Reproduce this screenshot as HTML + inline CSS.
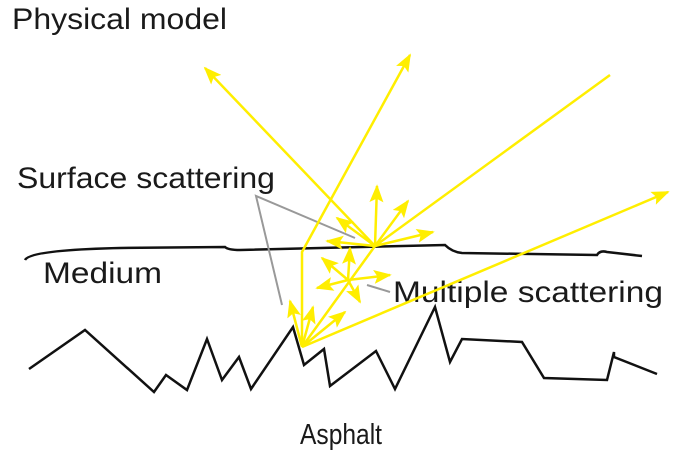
<!DOCTYPE html>
<html><head><meta charset="utf-8"><style>html,body{margin:0;padding:0;background:#fff}svg{display:block}</style></head>
<body>
<svg width="673" height="454" viewBox="0 0 673 454" xmlns="http://www.w3.org/2000/svg">
<defs>
<marker id="ah2" viewBox="0 0 10 10" refX="9" refY="5" markerWidth="18" markerHeight="14" orient="auto" markerUnits="userSpaceOnUse" preserveAspectRatio="none">
<path d="M0,0 L10,5 L0,10 L2,5 z" fill="#ffee00"/>
</marker>
</defs>
<g font-family="'Liberation Sans', sans-serif" fill="#1a1a1a">
<text x="12" y="29" font-size="30" textLength="215" lengthAdjust="spacingAndGlyphs">Physical model</text>
<text x="17" y="188" font-size="30" textLength="258" lengthAdjust="spacingAndGlyphs">Surface scattering</text>
<text x="43" y="283" font-size="30" textLength="119" lengthAdjust="spacingAndGlyphs">Medium</text>
<text x="393" y="302" font-size="30" textLength="270" lengthAdjust="spacingAndGlyphs">Multiple scattering</text>
<text x="300" y="444" font-size="29" textLength="82" lengthAdjust="spacingAndGlyphs">Asphalt</text>
</g>
<path d="M25,260 Q30,250 120,248 L225,247 Q228,250 240,250 L445,245 Q452,252 462,253 L597,255 Q600,250 607,252 L642,256" fill="none" stroke="#111" stroke-width="2.5"/>
<polyline points="29,369 85,330 154,392 166,375 187,390 207,339 222,380 239,357 251,389 293,327 304,365 324,349 330,386 376,351 395,389 435,307 450,362 462,339 522,342 544,378 607,380 614,352 614,357 657,374" fill="none" stroke="#111" stroke-width="2.5" stroke-linejoin="miter"/>
<g stroke="#999" stroke-width="2" fill="none">
<polyline points="355,238 256,196 282,305"/>
<line x1="367" y1="285" x2="390" y2="292"/>
</g>
<g stroke="#ffee00" stroke-width="2.5" fill="none">
<line x1="375" y1="246" x2="205" y2="68" marker-end="url(#ah2)"/>
<polyline points="302,347 302,252 410,55" marker-end="url(#ah2)"/>
<line x1="375" y1="246" x2="610" y2="75"/>
<line x1="302" y1="347" x2="375" y2="246"/>
<line x1="302" y1="347" x2="668" y2="192" marker-end="url(#ah2)"/>
<line x1="375" y1="246" x2="377" y2="186" marker-end="url(#ah2)"/>
<line x1="375" y1="246" x2="408" y2="201" marker-end="url(#ah2)"/>
<line x1="375" y1="246" x2="433" y2="232" marker-end="url(#ah2)"/>
<line x1="375" y1="246" x2="327" y2="241" marker-end="url(#ah2)"/>
<line x1="375" y1="246" x2="337" y2="218" marker-end="url(#ah2)"/>
<line x1="348" y1="280" x2="350" y2="248" marker-end="url(#ah2)"/>
<line x1="348" y1="280" x2="322" y2="258" marker-end="url(#ah2)"/>
<line x1="348" y1="280" x2="390" y2="275" marker-end="url(#ah2)"/>
<line x1="348" y1="280" x2="317" y2="288" marker-end="url(#ah2)"/>
<line x1="348" y1="280" x2="360" y2="302" marker-end="url(#ah2)"/>
<line x1="302" y1="347" x2="290" y2="301" marker-end="url(#ah2)"/>
<line x1="302" y1="347" x2="313" y2="307" marker-end="url(#ah2)"/>
<line x1="302" y1="347" x2="345" y2="312" marker-end="url(#ah2)"/>
</g>
</svg>
</body></html>
